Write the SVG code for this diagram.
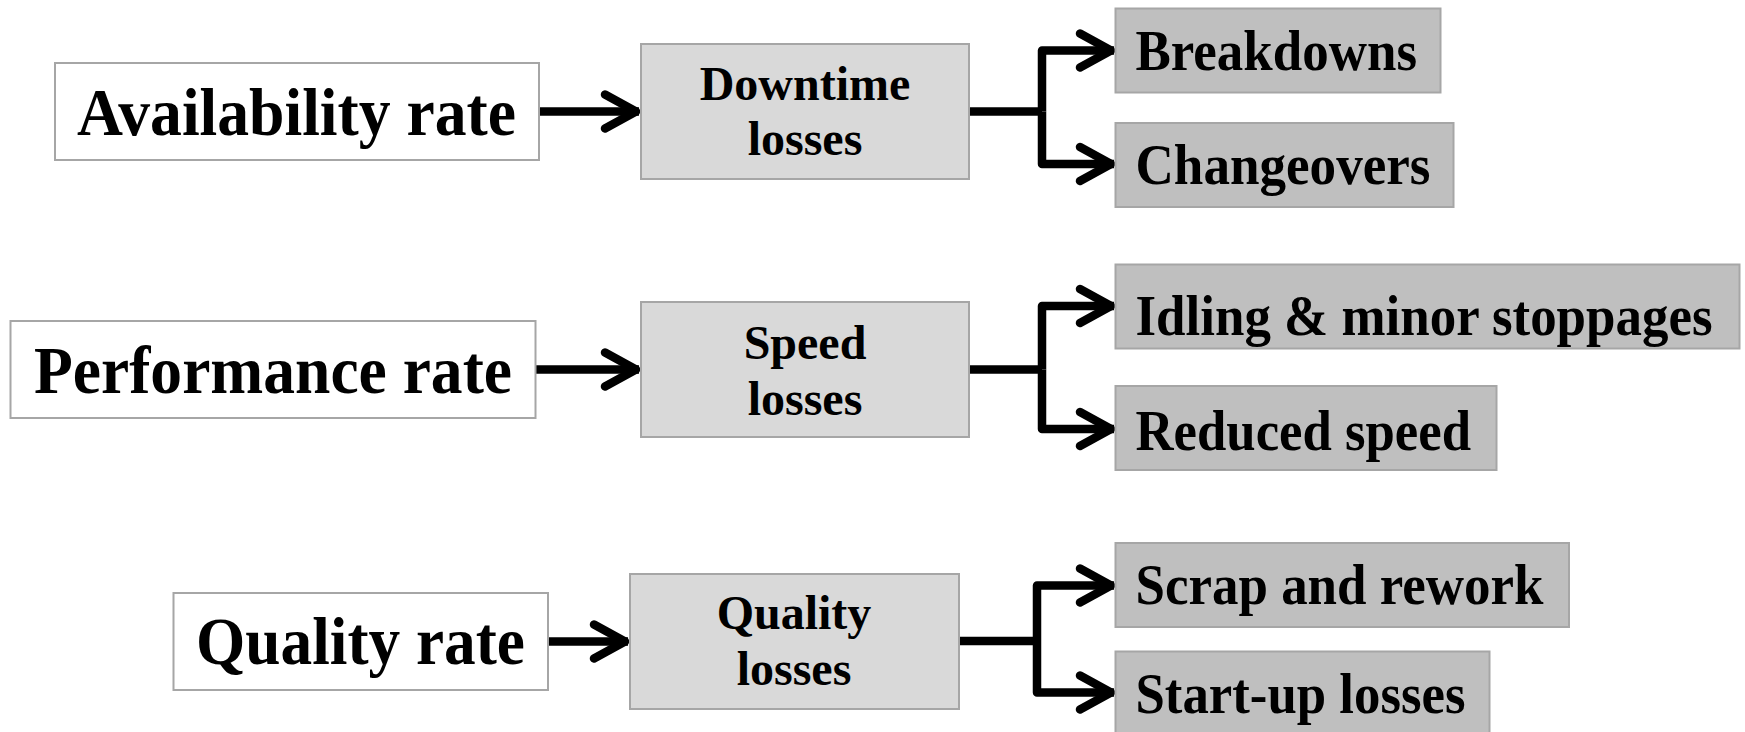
<svg xmlns="http://www.w3.org/2000/svg" width="1745" height="732" viewBox="0 0 1745 732">
<style>
.box{stroke:#A6A6A6;stroke-width:2}
.w{fill:#FFFFFF}
.m{fill:#D9D9D9}
.b{fill:#BFBFBF}
text{font-family:"Liberation Serif","Times New Roman",serif;font-weight:bold;fill:#000}
.big{font-size:67px;text-anchor:middle}
.mid{font-size:48px;text-anchor:middle}
.br{font-size:56px}
.c{fill:none;stroke:#000;stroke-width:8.5;stroke-linejoin:round}
</style>
<defs>
<marker id="ah" markerUnits="userSpaceOnUse" viewBox="-42 -24 46 48" markerWidth="46" markerHeight="48" refX="0" refY="0" orient="auto" overflow="visible">
<path d="M-34,-17 L-3,0 L-34,17" fill="none" stroke="#000" stroke-width="8.5" stroke-linecap="round" stroke-linejoin="round"/>
</marker>
</defs>
<g id="connectors">
<path class="c" d="M539,111.5 H639" marker-end="url(#ah)"/>
<path class="c" d="M969,111.5 H1042"/>
<path class="c" d="M1042,111.5 V50.5 H1114" marker-end="url(#ah)"/>
<path class="c" d="M1042,111.5 V164 H1114" marker-end="url(#ah)"/>
<path class="c" d="M536,369.5 H639" marker-end="url(#ah)"/>
<path class="c" d="M969,369.5 H1042"/>
<path class="c" d="M1042,369.5 V306 H1114" marker-end="url(#ah)"/>
<path class="c" d="M1042,369.5 V429 H1114" marker-end="url(#ah)"/>
<path class="c" d="M548,641.5 H628" marker-end="url(#ah)"/>
<path class="c" d="M959,641 H1037"/>
<path class="c" d="M1037,641 V585.5 H1114" marker-end="url(#ah)"/>
<path class="c" d="M1037,641 V692.5 H1114" marker-end="url(#ah)"/>
</g>
<g id="availability-rate">
<rect class="box w" x="55" y="63" width="484" height="97"/>
<text class="big" x="296.5" y="135" textLength="439" lengthAdjust="spacingAndGlyphs">Availability rate</text>
</g>
<g id="performance-rate">
<rect class="box w" x="10.5" y="321" width="525" height="97"/>
<text class="big" x="273" y="392.5" textLength="478" lengthAdjust="spacingAndGlyphs">Performance rate</text>
</g>
<g id="quality-rate">
<rect class="box w" x="173.5" y="593" width="374.5" height="97"/>
<text class="big" x="360.5" y="664" textLength="329" lengthAdjust="spacingAndGlyphs">Quality rate</text>
</g>
<g id="downtime-losses">
<rect class="box m" x="641" y="44" width="328" height="135"/>
<text class="mid" x="805" y="99.5">Downtime</text>
<text class="mid" x="805" y="155">losses</text>
</g>
<g id="speed-losses">
<rect class="box m" x="641" y="302" width="328" height="135"/>
<text class="mid" x="805" y="358.5">Speed</text>
<text class="mid" x="805" y="415">losses</text>
</g>
<g id="quality-losses">
<rect class="box m" x="630" y="574" width="329" height="135"/>
<text class="mid" x="794" y="628.5">Quality</text>
<text class="mid" x="794" y="685">losses</text>
</g>
<g id="breakdowns">
<rect class="box b" x="1115.5" y="8.5" width="325" height="84"/>
<text class="br" x="1135.5" y="70" textLength="281.5" lengthAdjust="spacingAndGlyphs">Breakdowns</text>
</g>
<g id="changeovers">
<rect class="box b" x="1115.5" y="123" width="338" height="84"/>
<text class="br" x="1135.5" y="183.5" textLength="295" lengthAdjust="spacingAndGlyphs">Changeovers</text>
</g>
<g id="idling">
<rect class="box b" x="1115.5" y="264.5" width="624" height="84"/>
<text class="br" x="1135.5" y="335" textLength="577" lengthAdjust="spacingAndGlyphs">Idling &amp; minor stoppages</text>
</g>
<g id="reduced-speed">
<rect class="box b" x="1115.5" y="386" width="381" height="84"/>
<text class="br" x="1135.5" y="450" textLength="335.5" lengthAdjust="spacingAndGlyphs">Reduced speed</text>
</g>
<g id="scrap-rework">
<rect class="box b" x="1115.5" y="543" width="453.5" height="84"/>
<text class="br" x="1135.5" y="603.5" textLength="408" lengthAdjust="spacingAndGlyphs">Scrap and rework</text>
</g>
<g id="start-up-losses">
<rect class="box b" x="1115.5" y="651.5" width="374" height="84"/>
<text class="br" x="1135.5" y="712.5" textLength="330" lengthAdjust="spacingAndGlyphs">Start-up losses</text>
</g>
</svg>
